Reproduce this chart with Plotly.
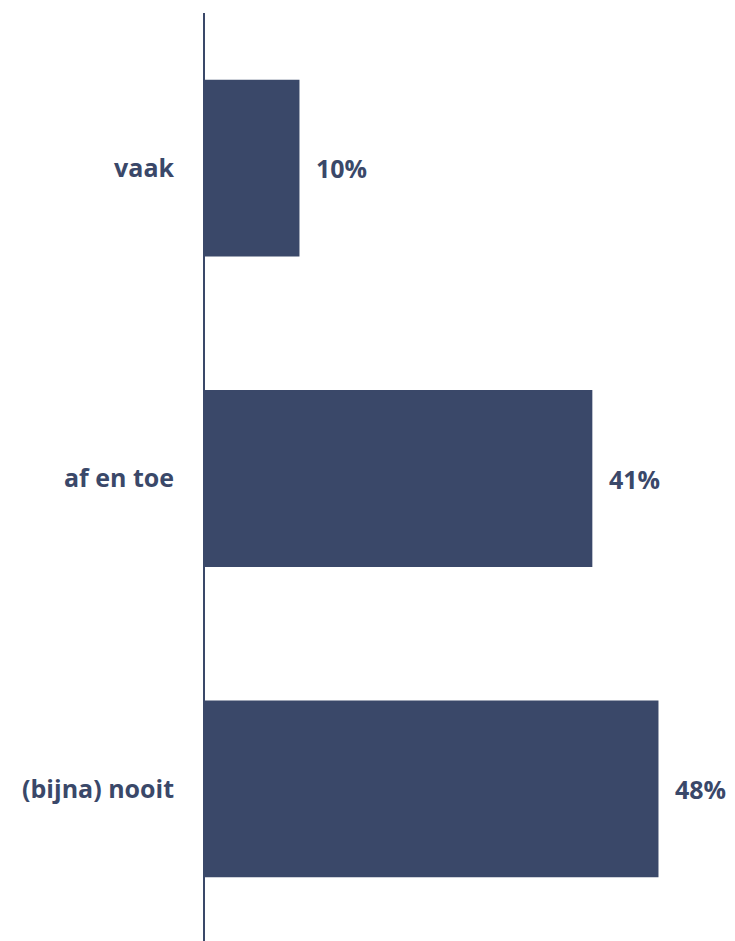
import plotly.graph_objects as go

categories = ["vaak", "af en toe", "(bijna) nooit"]
values = [10, 41, 48]
labels = ["10%", "41%", "48%"]

color = "#3a4869"
font_family = "Open Sans"

fig = go.Figure(go.Bar(
    x=values, y=categories, orientation="h",
    marker=dict(color=color, line=dict(width=0)),
    width=0.57,
    hoverinfo="skip",
))

for c, v, t in zip(categories, values, labels):
    fig.add_annotation(x=v, y=c, text=t, showarrow=False, xanchor="left",
                       xshift=15, font=dict(family=font_family, size=25, color=color, weight="bold"))

fig.update_layout(
    width=727, height=936,
    margin=dict(l=197, r=0, t=5, b=0),
    plot_bgcolor="white", paper_bgcolor="white",
    showlegend=False,
    xaxis=dict(range=[0, 56.1], visible=False, showgrid=False, zeroline=False),
    yaxis=dict(
        categoryorder="array", categoryarray=categories, autorange="reversed",
        showline=True, linecolor=color, linewidth=2, showgrid=False, zeroline=False,
        ticks="", ticklabelstandoff=24,
        tickfont=dict(family=font_family, size=25, color=color, weight="bold"),
    ),
)

fig.write_html("out.html")
